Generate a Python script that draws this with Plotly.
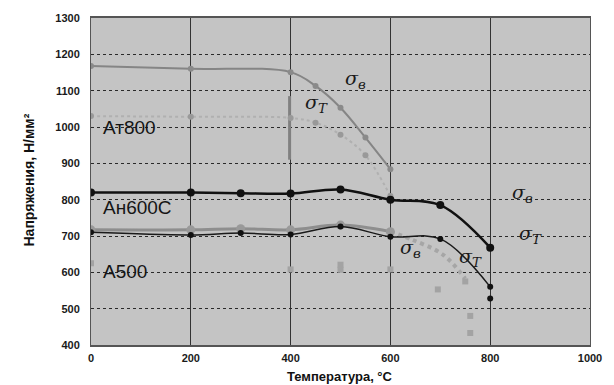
import plotly.graph_objects as go

# Temperature (°C) and strength (N/mm²) for three reinforcing steel grades
at800_sv_t = [0, 200, 400, 450, 500, 550, 600]
at800_sv = [1168, 1160, 1151, 1113, 1053, 971, 884]
at800_st_t = [0, 200, 400, 450, 500, 550, 600]
at800_st = [1030, 1028, 1025, 1012, 979, 922, 810]

an600_sv_t = [0, 200, 300, 400, 500, 600, 700, 800]
an600_sv = [820, 820, 818, 817, 828, 800, 785, 668]
an600_st_t = [0, 200, 300, 400, 500, 600, 700, 800]
an600_st = [710, 703, 708, 704, 726, 698, 692, 560]
an600_low_t = [800]
an600_low = [528]

a500_sv_t = [0, 200, 300, 400, 500, 600]
a500_sv = [717, 717, 720, 717, 730, 712]
a500_st_curve_t = [600, 645, 705, 750]
a500_st_curve = [712, 689, 649, 583]
a500_st_pts_t = [0, 400, 500, 500, 600, 695, 750, 760, 760]
a500_st_pts = [625, 608, 621, 607, 608, 553, 575, 480, 433]

# short vertical bar on the Ат800 curve
bar_t = [398, 398]
bar_v = [1085, 910]

x_ticks = [0, 200, 400, 600, 800, 1000]
y_ticks = [400, 500, 600, 700, 800, 900, 1000, 1100, 1200, 1300]

fig = go.Figure()

fig.add_trace(go.Scatter(x=bar_t, y=bar_v, mode="lines",
                         line=dict(color="#808080", width=3), hoverinfo="skip"))

# Ат800
fig.add_trace(go.Scatter(x=at800_st_t, y=at800_st, mode="lines+markers",
                         line=dict(color="#b0b0b0", width=2, dash="dot", shape="spline"),
                         marker=dict(color="#999999", size=6)))
fig.add_trace(go.Scatter(x=at800_sv_t, y=at800_sv, mode="lines+markers",
                         line=dict(color="#858585", width=2, shape="spline"),
                         marker=dict(color="#8a8a8a", size=6)))

# А500
fig.add_trace(go.Scatter(x=a500_st_curve_t, y=a500_st_curve, mode="lines",
                         line=dict(color="#a6a6a6", width=4, dash="dot", shape="spline")))
fig.add_trace(go.Scatter(x=a500_st_pts_t, y=a500_st_pts, mode="markers",
                         marker=dict(color="#a3a3a3", size=6, symbol="square")))
fig.add_trace(go.Scatter(x=a500_sv_t, y=a500_sv, mode="lines+markers",
                         line=dict(color="#8e8e8e", width=3, shape="spline"),
                         marker=dict(color="#999999", size=9)))

# Ан600С
fig.add_trace(go.Scatter(x=an600_st_t, y=an600_st, mode="lines+markers",
                         line=dict(color="#1a1a1a", width=1.5, shape="spline"),
                         marker=dict(color="#111111", size=6)))
fig.add_trace(go.Scatter(x=an600_low_t, y=an600_low, mode="markers",
                         marker=dict(color="#111111", size=6)))
fig.add_trace(go.Scatter(x=an600_sv_t, y=an600_sv, mode="lines+markers",
                         line=dict(color="#111111", width=2.5, shape="spline"),
                         marker=dict(color="#111111", size=8)))

sigma_font = dict(family="DejaVu Serif", size=19, color="#1a1a1a")
grade_font = dict(family="Arial", size=19, color="#151515")
sigma_labels = [
    (530, 1130, "<i>σ<sub>в</sub></i>"),
    (452, 1065, "<i>σ<sub>T</sub></i>"),
    (864, 818, "<i>σ<sub>в</sub></i>"),
    (880, 705, "<i>σ<sub>T</sub></i>"),
    (640, 665, "<i>σ<sub>в</sub></i>"),
    (760, 642, "<i>σ<sub>T</sub></i>"),
]
annotations = [dict(x=x, y=y, text=t, showarrow=False, font=sigma_font,
                    xref="x", yref="y") for x, y, t in sigma_labels]
annotations += [
    dict(x=20, y=1000, text="Ат800", showarrow=False, font=grade_font,
         xref="x", yref="y", xanchor="left"),
    dict(x=20, y=778, text="Ан600С", showarrow=False, font=grade_font,
         xref="x", yref="y", xanchor="left"),
    dict(x=20, y=602, text="А500", showarrow=False, font=grade_font,
         xref="x", yref="y", xanchor="left"),
    dict(x=0.498, y=-0.121, xref="paper", yref="paper", yanchor="bottom",
         text="<b>Температура, °С</b>", showarrow=False, borderpad=0,
         font=dict(family="Arial", size=13, color="#111111")),
    dict(x=-0.145, y=0.505, xref="paper", yref="paper",
         text="<b>Напряжения, Н/мм²</b>", showarrow=False, textangle=-90,
         font=dict(family="Arial", size=14, color="#111111")),
]

tick_font = dict(family="Arial", size=11, color="#1a1a1a", weight="bold")

fig.update_layout(
    width=614, height=385,
    margin=dict(l=91, r=17, t=15, b=40),
    paper_bgcolor="white",
    plot_bgcolor="#c4c4c4",
    showlegend=False,
    annotations=annotations,
    xaxis=dict(range=[0, 1000], tickvals=x_ticks, ticktext=[str(v) for v in x_ticks],
               showgrid=True, gridcolor="#333333", gridwidth=1,
               showline=True, linecolor="#555555", linewidth=2, mirror=True,
               zeroline=False, ticks="", ticklabelstandoff=2,
               tickfont=tick_font),
    yaxis=dict(range=[400, 1300], tickvals=y_ticks, ticktext=[str(v) for v in y_ticks],
               showgrid=True, gridcolor="#2a2a2a", gridwidth=1, griddash="dot",
               showline=True, linecolor="#555555", linewidth=1, mirror=True,
               zeroline=False, ticks="", ticklabelstandoff=8,
               tickfont=tick_font),
)

fig.write_html("out.html")
